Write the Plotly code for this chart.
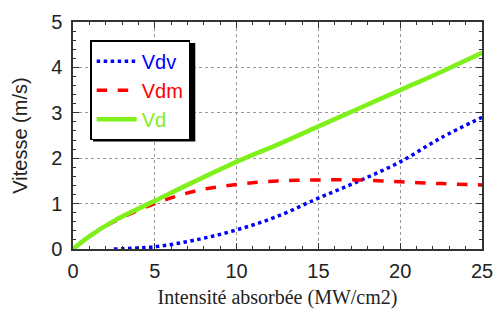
import plotly.graph_objects as go

x = [0, 1, 2.5, 5, 7.5, 10, 12.5, 15, 17.5, 20, 22.5, 25]
vd = [0, 0.28, 0.62, 1.06, 1.5, 1.92, 2.3, 2.7, 3.1, 3.5, 3.9, 4.32]
vdm = [0, 0.28, 0.6, 1.0, 1.28, 1.42, 1.5, 1.52, 1.52, 1.48, 1.44, 1.41]
x_dv = [2.5, 5, 7.5, 10, 12.5, 15, 17.5, 20, 22.5, 25]
vdv = [0, 0.05, 0.2, 0.42, 0.72, 1.12, 1.5, 1.92, 2.45, 2.9]

fig = go.Figure()
fig.add_trace(go.Scatter(x=x_dv, y=vdv, mode='lines', line_shape='spline',
                         name='<span style="color:#0000ff">Vdv</span>',
                         line=dict(color='#0000ff', width=3.5, dash='dot')))
fig.add_trace(go.Scatter(x=x, y=vdm, mode='lines', line_shape='spline',
                         name='<span style="color:#ff0000">Vdm</span>',
                         line=dict(color='#ff0000', width=3.5, dash='dash')))
fig.add_trace(go.Scatter(x=x, y=vd, mode='lines', line_shape='spline',
                         name='<span style="color:#7ff01a">Vd</span>',
                         line=dict(color='#7ff01a', width=4.5)))

axis_common = dict(showline=True, linecolor='#333', linewidth=1.5, mirror='ticks',
                   ticks='inside', ticklen=6, tickcolor='#333',
                   showgrid=True, gridcolor='#999', griddash='dot', gridwidth=1,
                   zeroline=False, automargin=False,
                   tickfont=dict(family='Liberation Sans, Arial', size=20, color='#222'))

fig.update_xaxes(range=[0, 25], dtick=5, **axis_common, ticklabelstandoff=3,
                 minor=dict(dtick=1, ticks='inside', ticklen=3, tickcolor='#333', showgrid=False),
                 title=dict(text='Intensité absorbée (MW/cm2)', standoff=14,
                            font=dict(family='Liberation Serif, Times New Roman', size=20, color='#222')))
fig.update_yaxes(range=[0, 5], dtick=1, **axis_common, ticklabelstandoff=5,
                 minor=dict(dtick=0.2, ticks='inside', ticklen=3, tickcolor='#333', showgrid=False),
                 title=dict(text='Vitesse (m/s)', standoff=18,
                            font=dict(family='Liberation Sans, Arial', size=20, color='#222')))

# drop shadow behind the legend box
fig.add_shape(type='rect', xref='paper', yref='paper', layer='above',
              x0=0.049, x1=0.299, y0=0.474, y1=0.907,
              fillcolor='black', line=dict(width=0))

fig.update_layout(
    width=494, height=309,
    margin=dict(l=73, r=12, t=22, b=60),
    plot_bgcolor='white', paper_bgcolor='white',
    legend=dict(x=0.042, y=0.92, xanchor='left', yanchor='top',
                bgcolor='white', bordercolor='black', borderwidth=1.5,
                font=dict(family='Liberation Sans, Arial', size=20),
                tracegroupgap=0, itemwidth=40),
)
# remove the browser's default 8px body margin so the figure fills the window
fig.write_html("out.html", config={'displayModeBar': False},
               post_script="document.body.style.margin='0';")
